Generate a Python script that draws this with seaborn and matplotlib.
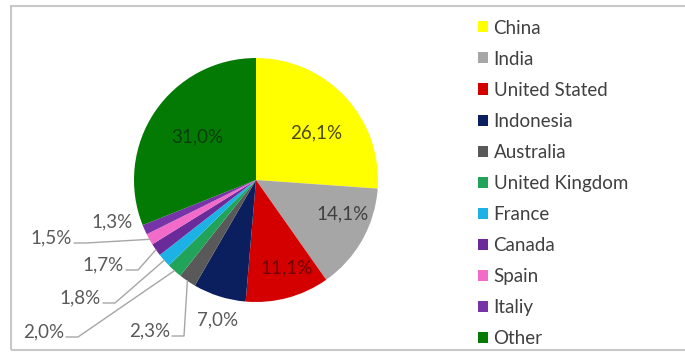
import numpy as np
import matplotlib
matplotlib.use("Agg")
import matplotlib.pyplot as plt
import seaborn as sns
from matplotlib.lines import Line2D
from matplotlib.patches import Rectangle

countries = ["China", "India", "United Stated", "Indonesia", "Australia",
             "United Kingdom", "France", "Canada", "Spain", "Italiy", "Other"]
shares = [26.1, 14.1, 11.1, 7.0, 2.3, 2.0, 1.8, 1.7, 1.5, 1.3, 31.0]
pct_labels = ["26,1%", "14,1%", "11,1%", "7,0%", "2,3%", "2,0%", "1,8%",
              "1,7%", "1,5%", "1,3%", "31,0%"]
colors = ["#FFFF00", "#A6A6A6", "#D40000", "#0B1F5E", "#595959", "#22A35A",
          "#1DB2E6", "#6A2A9A", "#F26BC8", "#7634A8", "#037A03"]

sns.set_theme(style="white")
plt.rcParams["font.family"] = ["Lato", "DejaVu Sans"]

W, H = 685, 352
fig = plt.figure(figsize=(W / 100, H / 100), dpi=100)
fig.patch.set_facecolor("white")

# pie geometry in pixels
cx, cy, R = 256, 180, 122
ax = fig.add_axes([(cx - R) / W, (H - cy - R) / H, 2 * R / W, 2 * R / H])
wedges, _ = ax.pie(shares, colors=colors, startangle=90, counterclock=False,
                   radius=1, wedgeprops=dict(linewidth=0))
ax.set_xlim(-1, 1)
ax.set_ylim(-1, 1)
ax.set_aspect("equal")
ax.axis("off")

def px(X, Y):
    return ((X - cx) / R, (cy - Y) / R)

fs = 13.5
# inside labels: (index, pixel center, color)
inside = {0: ((316, 133), "#4a4a10"), 1: ((343, 214), "#3f3f3f"),
          2: ((287, 268), "#6e0000"), 10: ((197, 137), "#0b3d0b")}
for i, ((X, Y), c) in inside.items():
    x, y = px(X, Y)
    ax.text(x, y, pct_labels[i], ha="center", va="center", fontsize=fs, color=c)

txtc = "#595959"
linec = "#A6A6A6"
# outside labels without leader: index -> pixel center
free = {3: (218, 320), 9: (112, 222)}
for i, (X, Y) in free.items():
    x, y = px(X, Y)
    ax.text(x, y, pct_labels[i], ha="center", va="center", fontsize=fs,
            color=txtc, clip_on=False)

# outside labels with leader lines: index -> (right edge x, center y)
lead = {4: (170, 331), 5: (64, 332), 6: (101, 298), 7: (124, 265), 8: (72, 238)}
total = sum(shares)
cum = np.cumsum([0] + shares)
for i, (XR, Y) in lead.items():
    x, y = px(XR, Y)
    ax.text(x, y, pct_labels[i], ha="right", va="center", fontsize=fs,
            color=txtc, clip_on=False)
    mid = (cum[i] + cum[i + 1]) / 2 / total
    ang = np.deg2rad(90 - mid * 360)
    ex, ey = np.cos(ang), np.sin(ang)
    x0, y0 = px(XR + 2, Y + 5)
    x1, _ = px(XR + 14, Y + 5)
    ax.add_line(Line2D([x0, x1, ex], [y0, y0, ey], color=linec, lw=1.0,
                       clip_on=False))

# legend
leg = fig.legend(wedges, countries, loc="upper left",
                 bbox_to_anchor=(478 / W, 1 - 19.5 / H), frameon=False,
                 fontsize=fs, handlelength=0.53, handleheight=0.53,
                 handletextpad=0.3, labelspacing=0.75, borderaxespad=0,
                 borderpad=0)
for t in leg.get_texts():
    t.set_color("#404040")

# outer border
fig.add_artist(Rectangle((11 / W, 1 - 350 / H), (W + 10) / W, 344 / H,
                         transform=fig.transFigure, fill=False,
                         edgecolor="#C8C8C8", lw=1.5, clip_on=False))

fig.savefig("out.png", dpi=100)
